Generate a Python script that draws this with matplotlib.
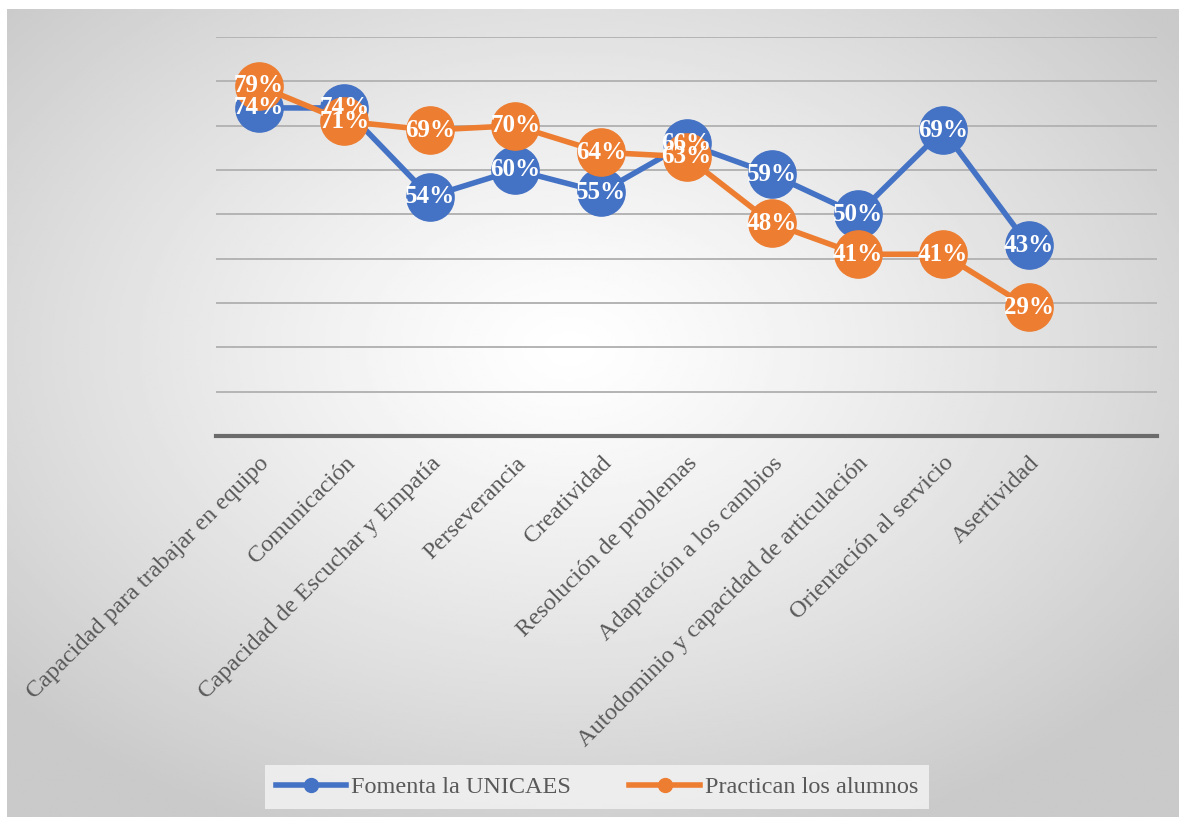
import numpy as np
import matplotlib.pyplot as plt
from matplotlib.lines import Line2D

# --- Datos ---
categorias = ['Capacidad para trabajar en equipo', 'Comunicación',
              'Capacidad de Escuchar y Empatía', 'Perseverancia', 'Creatividad',
              'Resolución de problemas', 'Adaptación a los cambios',
              'Autodominio y capacidad de articulación', 'Orientación al servicio',
              'Asertividad']
fomenta = [74, 74, 54, 60, 55, 66, 59, 50, 69, 43]
practican = [79, 71, 69, 70, 64, 63, 48, 41, 41, 29]
series_nombres = ['Fomenta la UNICAES', 'Practican los alumnos']

azul = '#4472C4'
naranja = '#ED7D31'
gris_texto = '#595959'

plt.rcParams['font.family'] = ['Liberation Serif', 'DejaVu Serif']

W, H = 1179, 817
fig = plt.figure(figsize=(W / 100, H / 100), dpi=100)
fig.patch.set_facecolor('white')

# fondo con degradado radial (blanco al centro, gris en los bordes)
bg = fig.add_axes([7 / W, 0, 1 - 7 / W, 1 - 9 / H], zorder=-10)
yy, xx = np.mgrid[0:1:300j, 0:1:400j]
r = np.sqrt(((xx - 0.48) / 0.65) ** 2 + ((yy - 0.42) / 0.65) ** 2)
r = np.clip(r, 0, 1)
val = 1.0 - 0.21 * r ** 1.2
bg.imshow(val, cmap='gray', vmin=0, vmax=1, aspect='auto',
          extent=[0, 1, 0, 1], interpolation='bilinear')
bg.set_axis_off()

ax = fig.add_axes([216 / W, 1 - 436 / H, (1157 - 216) / W, (436 - 37) / H])
ax.set_facecolor('none')

x = np.arange(len(categorias))
ms = 34
ax.plot(x, fomenta, color=azul, lw=4, marker='o', ms=ms, zorder=3,
        solid_capstyle='round', solid_joinstyle='round')
ax.plot(x, practican, color=naranja, lw=4, marker='o', ms=ms, zorder=4,
        solid_capstyle='round', solid_joinstyle='round')

for xi, v in zip(x, fomenta):
    ax.text(xi, v, f'{v}%', color='white', fontsize=18, fontweight='bold',
            ha='center', va='center', zorder=6)
for xi, v in zip(x, practican):
    ax.text(xi, v, f'{v}%', color='white', fontsize=18, fontweight='bold',
            ha='center', va='center', zorder=6)

ax.set_xlim(-0.5, 10.5)
ax.set_ylim(0, 90)
for g in range(10, 91, 10):
    ax.axhline(g, color='#b4b4b4', lw=1.4, zorder=1)
ax.axhline(0, color='#6b6b6b', lw=3, zorder=2, clip_on=False)

for s in ax.spines.values():
    s.set_visible(False)
ax.set_yticks([])
ax.set_xticks(x)
ax.set_xticklabels(categorias, rotation=45, ha='right', va='top',
                   rotation_mode='anchor', fontsize=17.5, color=gris_texto)
ax.tick_params(axis='x', length=0, pad=12)

handles = [Line2D([0], [0], color=azul, lw=4, marker='o', ms=10),
           Line2D([0], [0], color=naranja, lw=4, marker='o', ms=10)]
leg = fig.legend(handles, series_nombres, loc='center', ncol=2,
                 bbox_to_anchor=(597 / W, 1 - 787 / H), frameon=True,
                 fancybox=False, fontsize=17.5, handlelength=2.9,
                 handletextpad=0.2, columnspacing=2.4, borderpad=0.45,
                 borderaxespad=0)
leg.get_frame().set_facecolor('#f2f2f2')
leg.get_frame().set_edgecolor('none')
leg.get_frame().set_alpha(0.85)
for t in leg.get_texts():
    t.set_color(gris_texto)

fig.savefig('out.png', dpi=100)
